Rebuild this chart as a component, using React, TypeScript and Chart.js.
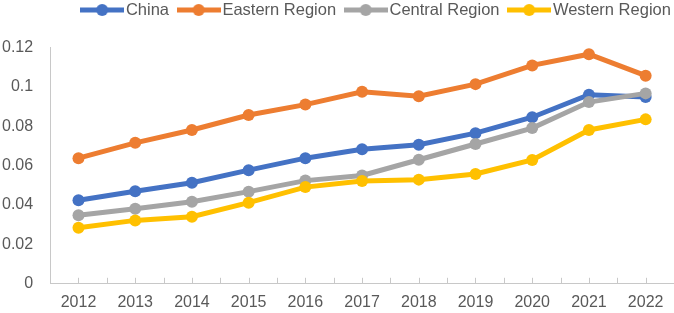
import React, { useEffect, useRef } from "react";
import { Chart, registerables } from "chart.js";

Chart.register(...registerables);

const years = ["2012", "2013", "2014", "2015", "2016", "2017", "2018", "2019", "2020", "2021", "2022"];
const china = [0.0424, 0.047, 0.0513, 0.0577, 0.0638, 0.0683, 0.0706, 0.0765, 0.0846, 0.096, 0.0949];
const eastern = [0.0638, 0.0716, 0.0781, 0.0857, 0.091, 0.0975, 0.0953, 0.1014, 0.1109, 0.1166, 0.1057];
const central = [0.0348, 0.0381, 0.0417, 0.0468, 0.0524, 0.055, 0.063, 0.071, 0.0791, 0.0923, 0.0967];
const western = [0.0285, 0.0322, 0.0341, 0.0412, 0.0491, 0.0522, 0.0529, 0.0558, 0.0629, 0.0781, 0.0835];
const seriesNames = ["China", "Eastern Region", "Central Region", "Western Region"];
const seriesColors = ["#4472C4", "#ED7D31", "#A5A5A5", "#FFC000"];
const yMin = 0;
const yMax = 0.12;
const yStep = 0.02;

const FONT = "'Liberation Sans', Arial, sans-serif";
const TEXT = "#595959";
const AXIS = "#c8c8c8";

function legendImage(color: string): HTMLCanvasElement {
  const c = document.createElement("canvas");
  c.width = 44;
  c.height = 14;
  const ctx = c.getContext("2d")!;
  ctx.strokeStyle = color;
  ctx.lineWidth = 5;
  ctx.beginPath();
  ctx.moveTo(0, 7);
  ctx.lineTo(44, 7);
  ctx.stroke();
  ctx.fillStyle = color;
  ctx.beginPath();
  ctx.arc(22, 7, 6, 0, Math.PI * 2);
  ctx.fill();
  return c;
}

// Excel-style inside tick marks at every category centre and boundary
const insideTicks = {
  id: "insideTicks",
  afterDraw(chart: any) {
    const s = chart.scales.x;
    const ctx = chart.ctx;
    const n = s.ticks.length;
    if (n < 2) return;
    const half = (s.getPixelForTick(1) - s.getPixelForTick(0)) / 2;
    ctx.save();
    ctx.strokeStyle = AXIS;
    ctx.lineWidth = 1;
    const xs: number[] = [];
    for (let i = 0; i < n; i++) {
      const c = s.getPixelForTick(i);
      xs.push(c);
      xs.push(c + half);
    }
    for (const xv of xs) {
      const x = Math.round(xv) + 0.5;
      ctx.beginPath();
      ctx.moveTo(x, s.top - 6);
      ctx.lineTo(x, s.top);
      ctx.stroke();
    }
    ctx.restore();
  },
};

const legendSpace = {
  id: "legendSpace",
  beforeLayout(chart: any) {
    const l = chart.legend;
    if (l && !l.__patched) {
      const orig = l.fit.bind(l);
      l.fit = function () {
        orig();
        this.height += 19.25;
      };
      l.__patched = true;
    }
  },
  afterLayout(chart: any) {
    const l = chart.legend;
    if (l) {
      l.right += 11;
    }
  },
};

export default function App() {
  const ref = useRef<HTMLCanvasElement | null>(null);
  useEffect(() => {
    if (!ref.current) return;
    const all = [china, eastern, central, western];
    const images = seriesColors.map(legendImage);
    const chart = new Chart(ref.current, {
      type: "line",
      data: {
        labels: years,
        datasets: all.map((d, i) => ({
          label: seriesNames[i],
          data: d,
          borderColor: seriesColors[i],
          backgroundColor: seriesColors[i],
          borderWidth: 5,
          pointRadius: 6,
          pointHoverRadius: 6,
          pointBackgroundColor: seriesColors[i],
          pointBorderWidth: 0,
          pointStyle: "circle",
          tension: 0,
          fill: false,
          order: 3 - i,
        })),
      },
      options: {
        responsive: false,
        animation: false,
        layout: { autoPadding: false, padding: { left: -15, right: 0, top: -12.35, bottom: -8 } },
        plugins: {
          tooltip: { enabled: false },
          legend: {
            position: "top",
            align: "end",
            labels: {
              usePointStyle: true,
              pointStyleWidth: 31,
              padding: 14.1,
              color: TEXT,
              font: { family: FONT, size: 16.5 },
              sort: (a: any, b: any) => a.datasetIndex - b.datasetIndex,
              generateLabels: (c: any) => {
                const items = (Chart.defaults.plugins.legend.labels as any).generateLabels(c);
                return items.map((it: any) => ({ ...it, pointStyle: images[it.datasetIndex] }));
              },
            },
          },
        },
        scales: {
          x: {
            offset: true,
            grid: {
              display: true,
              offset: true,
              drawOnChartArea: false,
              drawTicks: false,
            },
            border: { display: true, color: AXIS, width: 1 },
            ticks: {
              color: TEXT,
              font: { family: FONT, size: 16 },
              padding: 9,
              maxRotation: 0,
              autoSkip: false,
            },
          },
          y: {
            min: yMin,
            max: yMax,
            grid: { display: true, drawOnChartArea: false, drawTicks: false },
            border: { display: true, color: AXIS, width: 1 },
            ticks: {
              stepSize: yStep,
              padding: 17,
              color: TEXT,
              font: { family: FONT, size: 16 },
              callback: (v: any) => String(Number(Number(v).toFixed(2))),
            },
          },
        },
      },
      plugins: [insideTicks, legendSpace],
    });
    return () => chart.destroy();
  }, []);
  return (
    <div style={{ position: "fixed", left: 0, top: 0, width: 674, height: 313, background: "#fff" }}>
      <canvas ref={ref} width={674} height={313} style={{ display: "block" }} />
    </div>
  );
}
